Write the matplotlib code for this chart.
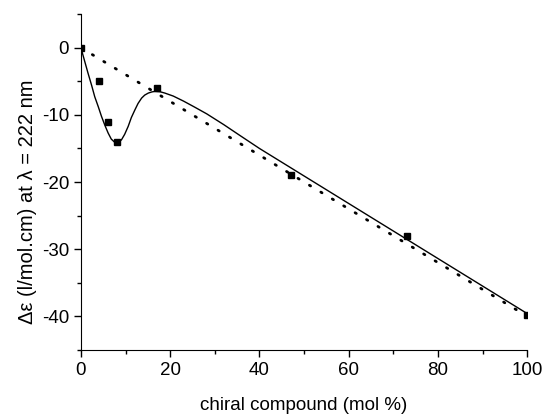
import matplotlib
matplotlib.use("Agg")
from matplotlib import pyplot as plt
from matplotlib.ticker import MultipleLocator

plt.rcParams['font.family'] = ['Liberation Sans', 'DejaVu Sans']
plt.rcParams['axes.unicode_minus'] = False

# measured points
mol_pct = [0, 4, 6, 8, 17, 47, 73, 100]
delta_eps = [0, -5, -11, -14, -6, -19, -28.1, -39.8]

# fitted curve
fit_x = [0, 0.8, 1.6, 2.4, 3.1, 3.9, 4.6, 5.4, 6.1, 6.8, 7.6, 8.3, 9.1, 9.8, 10.6,
         11.3, 12.1, 12.8, 13.6, 14.3, 15.1, 15.9, 16.6, 17.7, 18.8, 20.7, 23.0,
         25.5, 28.2, 32.0, 35.7, 40, 45, 50, 60, 70, 80, 90, 100]
fit_y = [0, -1.9, -3.8, -5.6, -7.3, -8.8, -10.2, -11.6, -12.7, -13.6, -14.1, -14.2,
         -13.7, -12.9, -11.7, -10.4, -9.25, -8.3, -7.5, -7.05, -6.75, -6.58, -6.5, -6.55,
         -6.75, -7.2, -7.95, -8.85, -9.85, -11.45, -13.1, -15.0, -17.05, -19.1,
         -23.2, -27.3, -31.4, -35.5, -39.6]

# ideal linear dependence
ideal_x = [0, 100]
ideal_y = [0, -40]

fig = plt.figure(figsize=(5.43, 4.17), dpi=100)
ax = fig.add_axes([0.149, 0.161, 0.822, 0.805])

ax.plot(ideal_x, ideal_y, color='black', lw=2.0, linestyle=(0, (0.5, 4.3)),
        dash_capstyle='round')
ax.plot(fit_x, fit_y, color='black', lw=1.0)
ax.plot(mol_pct, delta_eps, 's', color='black', markersize=4)

ax.set_xlim(0, 100)
ax.set_ylim(-45, 5)
ax.xaxis.set_major_locator(MultipleLocator(20))
ax.xaxis.set_minor_locator(MultipleLocator(10))
ax.yaxis.set_major_locator(MultipleLocator(10))
ax.yaxis.set_minor_locator(MultipleLocator(5))
ax.set_yticks([0, -10, -20, -30, -40])

for s in ['top', 'right']:
    ax.spines[s].set_visible(False)
ax.tick_params(which='major', direction='out', length=5, width=1, labelsize=13.5)
ax.tick_params(which='minor', direction='out', length=3, width=1)

ax.set_xlabel('chiral compound (mol %)', fontsize=13.5)
ax.set_ylabel('Δε (l/mol.cm) at λ = 222 nm', fontsize=14.5, va='center')
ax.xaxis.set_label_coords(0.5, -0.14)
ax.yaxis.set_label_coords(-0.12, 0.44)

plt.savefig('out.png', dpi=100)
